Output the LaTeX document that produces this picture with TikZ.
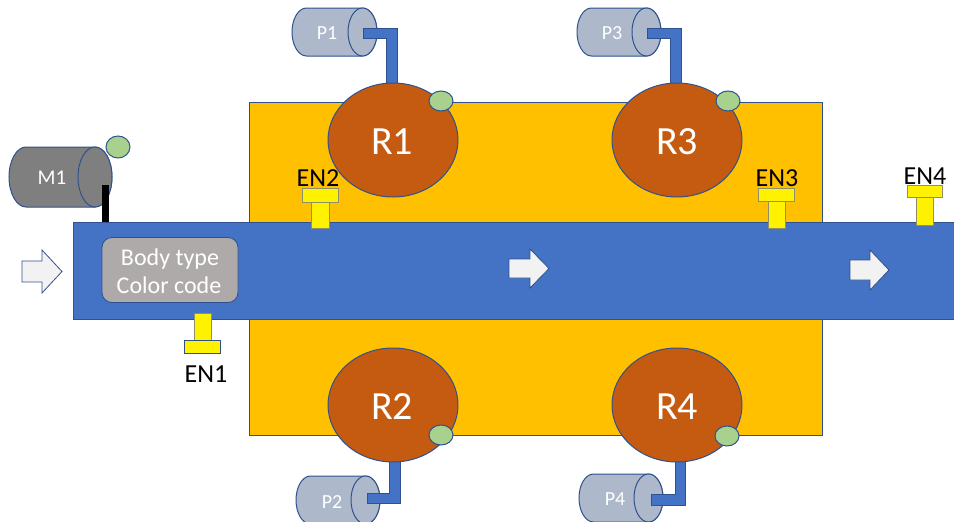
\documentclass[tikz,border=0pt]{standalone}
\usepackage{fontspec}
\setmainfont{Carlito}
\usetikzlibrary{shapes.geometric}
\definecolor{belt}{HTML}{4472C4}
\definecolor{edge}{HTML}{2F528F}
\definecolor{amber}{HTML}{FFC000}
\definecolor{rust}{HTML}{C55A11}
\definecolor{leaf}{HTML}{A9D18E}
\definecolor{pumpc}{HTML}{ADB9CA}
\definecolor{motorc}{HTML}{7F7F7F}
\definecolor{tagc}{HTML}{AEAAAA}
\definecolor{arrowc}{HTML}{F2F2F2}
\definecolor{sensedge}{HTML}{8F8F6A}
\newcommand\mycyl[6]{%
  \draw[draw=edge, fill=#6] (#1,#3-#5) -- (#2,#3-#5)
    arc[start angle=-90, end angle=90, x radius=#4, y radius=#5]
    -- (#1,#3+#5)
    arc[start angle=90, end angle=270, x radius=#4, y radius=#5] -- cycle;
  \draw[draw=edge, fill=#6] (#2,#3) ellipse[x radius=#4, y radius=#5];}
\begin{document}
\begin{tikzpicture}[x=1pt,y=-1pt,line width=1pt,
  robot/.style={ellipse, draw=edge, fill=rust, minimum width=130pt, minimum height=114pt, inner sep=0pt},
  dot/.style={ellipse, draw=edge, fill=leaf, minimum width=24pt, minimum height=20pt, inner sep=0pt},
  rlabel/.style={anchor=base, text=white, font=\fontsize{40}{48}\selectfont},
  plabel/.style={anchor=base, text=white, font=\fontsize{20}{24}\selectfont},
  enlabel/.style={anchor=base, text=black, font=\fontsize{26}{31}\selectfont},
  tlabel/.style={anchor=base, text=white, font=\fontsize{24}{29}\selectfont},
  sensor/.style={draw=sensedge, fill=yellow, line width=0.8pt},
  pipe/.style={draw=edge, fill=belt, line width=0.8pt},
  flow/.style={draw=edge, fill=arrowc, line width=0.8pt}]
\useasboundingbox (0,0) rectangle (954,522);
\clip (0,0) rectangle (954,522);
% station frame
\draw[draw=edge, fill=amber, line width=0.8pt] (249,102) rectangle (822,435);
% conveyor
\draw[draw=edge, fill=belt] (73,222) rectangle (960,319);
% motor M1
\mycyl{26}{95}{177}{17}{30}{motorc}
\node[plabel, font=\fontsize{21}{25}\selectfont] (m1t) at (52,184) {M1};
\fill[black] (102,185) rectangle (109,222);
\node[dot, minimum height=22pt] (m1d) at (118,147) {};
% pumps and pipes
\mycyl{306.5}{362.5}{32}{14.5}{24}{pumpc}
\mycyl{591.5}{646.5}{32}{14.5}{24}{pumpc}
\mycyl{310.5}{365.5}{500}{14.5}{24}{pumpc}
\mycyl{593.5}{648.5}{498}{14.5}{24}{pumpc}
\node[plabel] (p1t) at (327,39) {P1};
\node[plabel] (p3t) at (612,39) {P3};
\node[plabel] (p2t) at (332,508) {P2};
\node[plabel] (p4t) at (615,505) {P4};
\draw[pipe] (363,28) -- (397,28) -- (397,90) -- (386,90) -- (386,38) -- (363,38) -- cycle;
\draw[pipe] (647,28) -- (681,28) -- (681,90) -- (670,90) -- (670,38) -- (647,38) -- cycle;
\draw[pipe] (367,493) -- (389,493) -- (389,455) -- (400,455) -- (400,503) -- (367,503) -- cycle;
\draw[pipe] (651,494) -- (675,494) -- (675,455) -- (685,455) -- (685,505) -- (651,505) -- cycle;
% robots
\node[robot] (r1) at (393,140) {};
\node[robot] (r3) at (677,140) {};
\node[robot] (r2) at (393,405) {};
\node[robot] (r4) at (677,405) {};
\node[rlabel] (r1t) at (392,154) {R1};
\node[rlabel] (r3t) at (677,154) {R3};
\node[rlabel] (r2t) at (392,419) {R2};
\node[rlabel] (r4t) at (677,419) {R4};
\node[dot] (r1d) at (441,101) {};
\node[dot] (r3d) at (728,101) {};
\node[dot] (r2d) at (441,435) {};
\node[dot] (r4d) at (727,436) {};
% body tag
\node[draw=edge, fill=tagc, rounded corners=10pt, line width=0.8pt, minimum width=136pt, minimum height=65pt, inner sep=0pt] (tag) at (170,270) {};
\node[tlabel] (tag1) at (170,265) {Body type};
\node[tlabel] (tag2) at (169,293) {Color code};
% flow arrows
\draw[flow] (22,261) -- (42,261) -- (42,250) -- (62,271.5) -- (42,293) -- (42,282) -- (22,282) -- cycle;
\draw[flow] (509,259) -- (530,259) -- (530,249) -- (549,268.5) -- (530,288) -- (530,278) -- (509,278) -- cycle;
\draw[flow] (850,260) -- (870,260) -- (870,250) -- (889,270) -- (870,290) -- (870,280) -- (850,280) -- cycle;
% sensors
\draw[sensor] (194,313) rectangle (211,340);
\draw[sensor, draw=edge] (184,340) rectangle (220,353);
\draw[sensor] (311,200) rectangle (329,228);
\draw[sensor] (302,188) rectangle (338,202);
\draw[sensor] (768,199) rectangle (785,228);
\draw[sensor] (758,188) rectangle (794,201);
\draw[sensor] (916,195) rectangle (933,225);
\draw[sensor] (907,185) rectangle (942,197);
\node[enlabel] (en1) at (206,382) {EN1};
\node[enlabel] (en2) at (318,186) {EN2};
\node[enlabel] (en3) at (777,186) {EN3};
\node[enlabel] (en4) at (925,184) {EN4};
\end{tikzpicture}
\end{document}
